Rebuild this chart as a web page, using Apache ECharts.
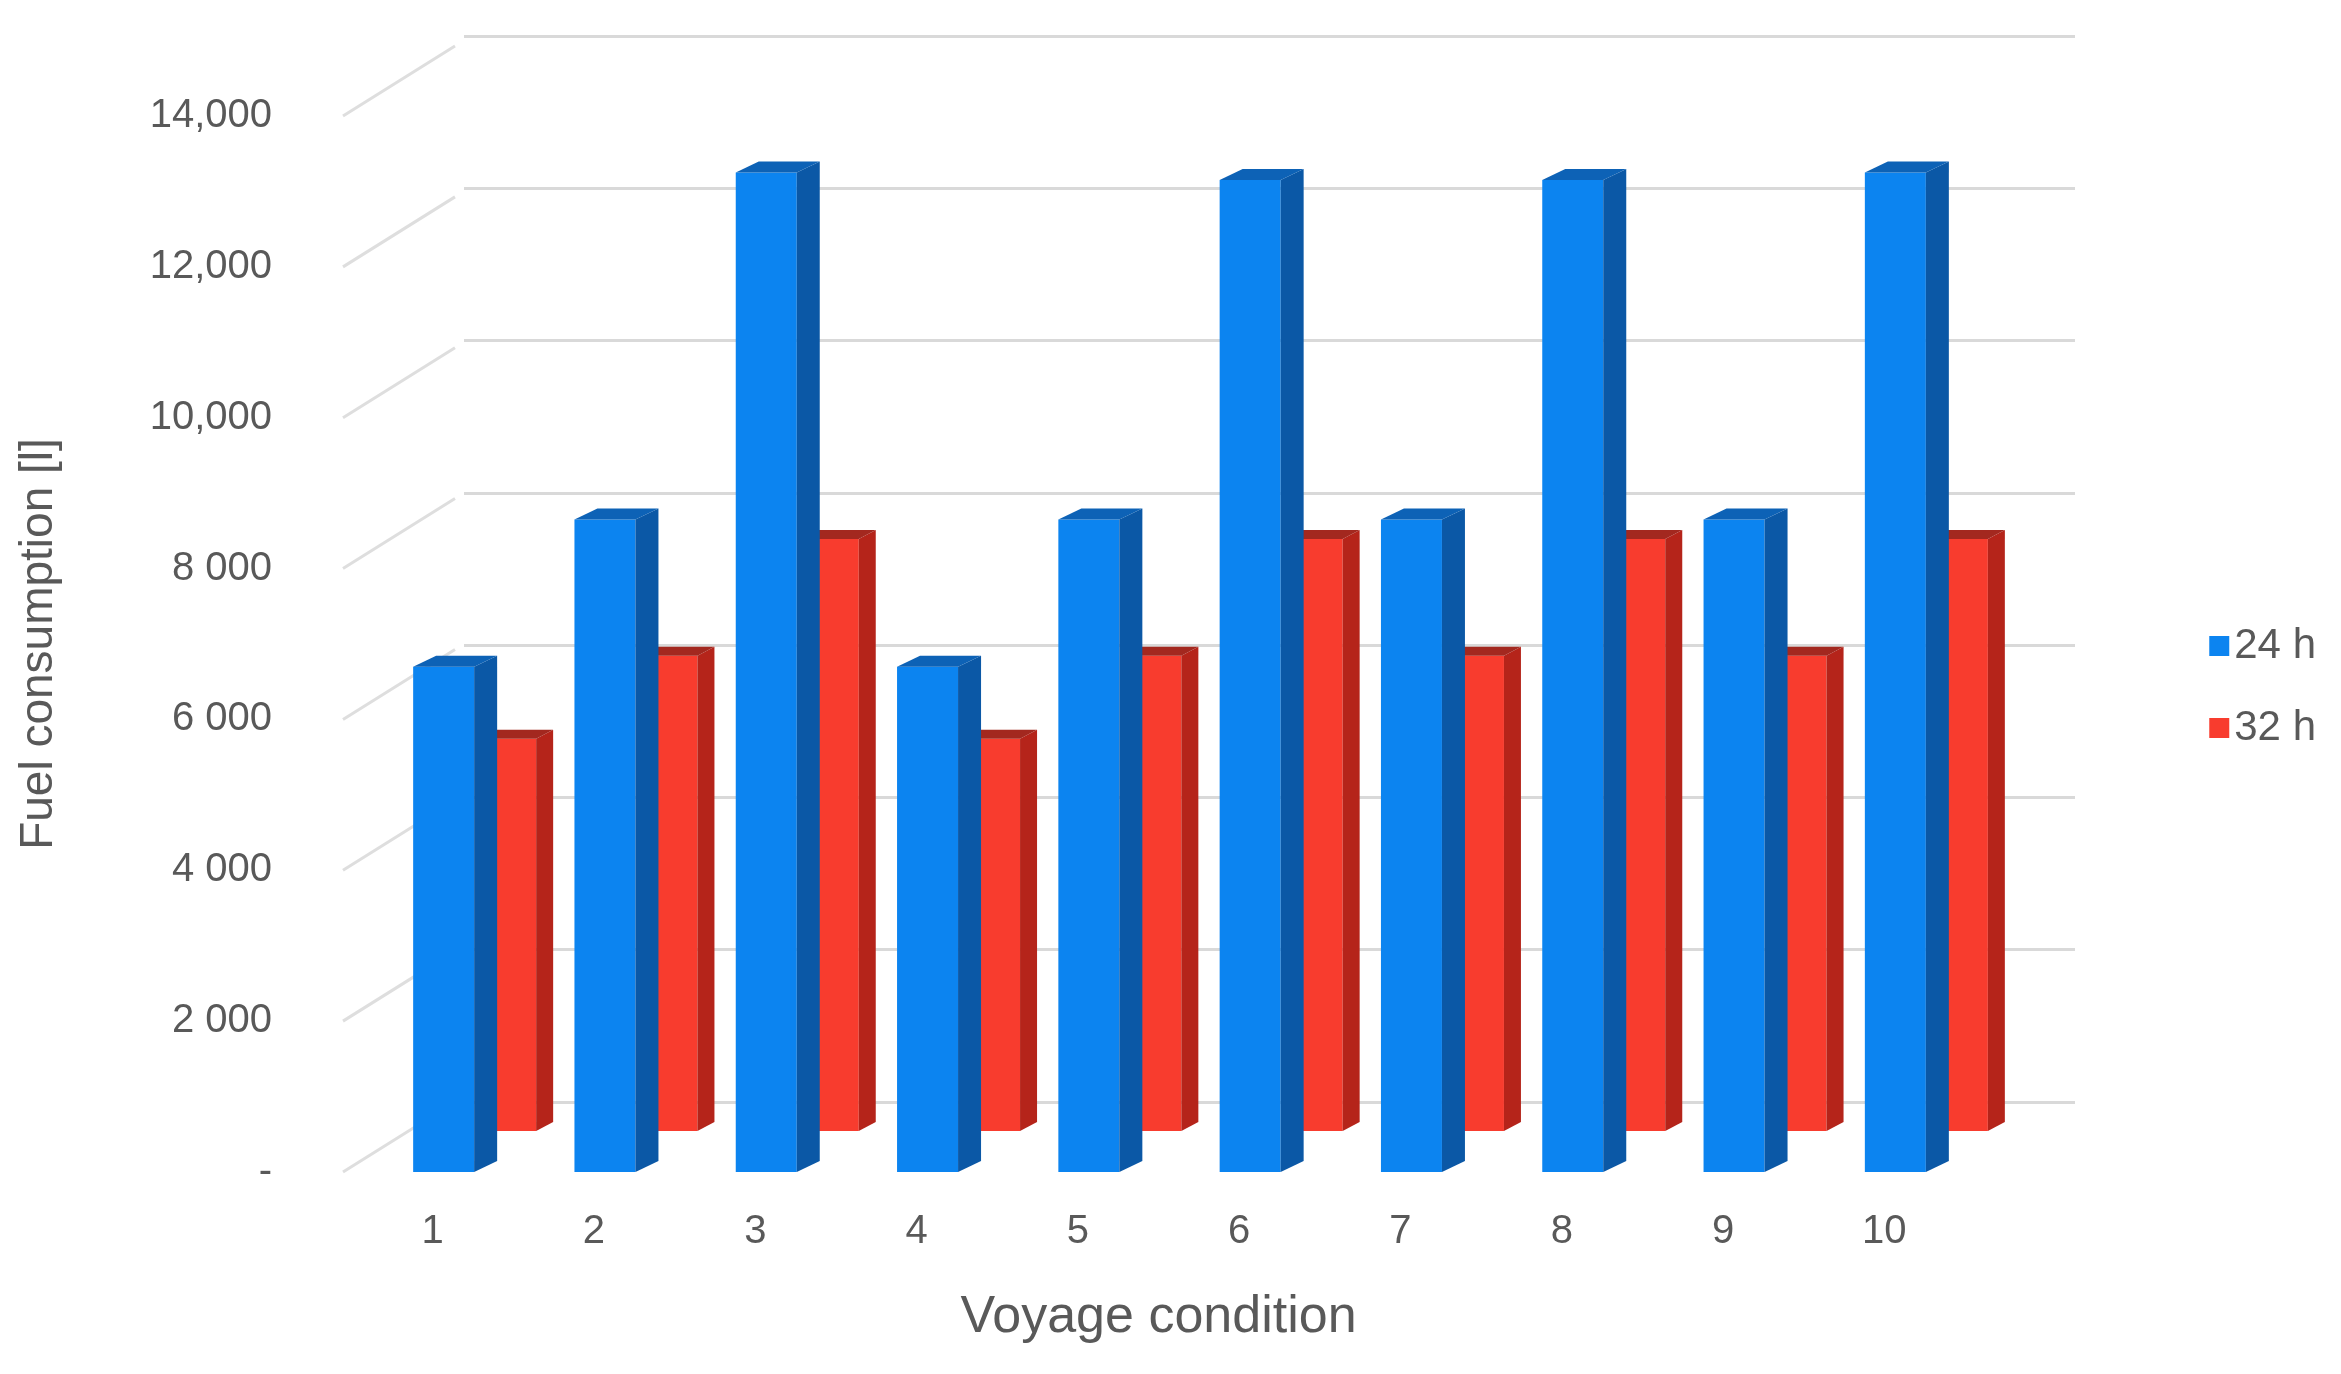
<!DOCTYPE html>
<html>
<head>
<meta charset="utf-8">
<script src="https://cdn.jsdelivr.net/npm/echarts@6/dist/echarts.min.js"></script>
<style>html,body{margin:0;background:#fff}#c{width:2341px;height:1374px}</style>
</head>
<body>
<div id="c"></div>
<script>
const categories = ['1', '2', '3', '4', '5', '6', '7', '8', '9', '10'];
const fuel24 = [6700, 8650, 13250, 6700, 8650, 13150, 8650, 13150, 8650, 13250];
const fuel32 = [5200, 6300, 7850, 5200, 6300, 7850, 6300, 7850, 6300, 7850];
const yTicks = [0, 2000, 4000, 6000, 8000, 10000, 12000, 14000];
const yTickLabels = ['-', '2 000', '4 000', '6 000', '8 000', '10,000', '12,000', '14,000'];

const FONT = 'Liberation Sans, Arial, sans-serif';
const GREY = '#595959';

// draws one 3D column, shifted back in depth
function bar3d(shiftX, shiftY, depthX, depthY, colors) {
    return function (params, api) {
        let i = api.value(0);
        let base = api.coord([i, 0]);
        let top = api.coord([i, api.value(1)]);
        let w = 61;
        let x0 = base[0] + 11 - w / 2 + shiftX;
        let x1 = x0 + w;
        let yb = base[1] + shiftY;
        let yt = top[1] + shiftY;
        return {
            type: 'group',
            children: [
                {type: 'rect', shape: {x: x0, y: yt, width: w, height: yb - yt}, style: {fill: colors[0]}},
                {type: 'polygon', shape: {points: [[x1, yt], [x1 + depthX, yt - depthY], [x1 + depthX, yb - depthY], [x1, yb]]}, style: {fill: colors[1]}},
                {type: 'polygon', shape: {points: [[x0, yt], [x0 + depthX, yt - depthY], [x1 + depthX, yt - depthY], [x1, yt]]}, style: {fill: colors[2]}}
            ]
        };
    };
}

const chart = echarts.init(document.getElementById('c'));
chart.setOption({
    animation: false,
    grid: [
        {left: 352, right: 376, top: 116, bottom: 202},
        {left: 464, right: 266, top: 36, bottom: 272}
    ],
    legend: {
        orient: 'vertical', right: 20, top: 620, itemGap: 40,
        icon: 'rect', itemWidth: 20, itemHeight: 20,
        textStyle: {fontFamily: FONT, fontSize: 42, color: GREY},
        data: ['24 h', '32 h']
    },
    xAxis: [
        {
            type: 'category', data: categories, gridIndex: 0,
            axisLine: {show: false}, axisTick: {show: false},
            axisLabel: {fontFamily: FONT, fontSize: 40, color: GREY, margin: 40},
            name: 'Voyage condition', nameLocation: 'middle', nameGap: 120,
            nameTextStyle: {fontFamily: FONT, fontSize: 52, color: GREY}
        },
        {type: 'category', data: categories, gridIndex: 1, show: false}
    ],
    yAxis: [
        {
            type: 'value', min: 0, max: 14000, interval: 2000, gridIndex: 0,
            splitLine: {show: false}, axisLine: {show: false}, axisTick: {show: false},
            axisLabel: {
                fontFamily: FONT, fontSize: 40, color: GREY, margin: 80,
                formatter: v => yTickLabels[yTicks.indexOf(v)]
            },
            name: 'Fuel consumption [l]', nameLocation: 'middle', nameGap: 290,
            nameTextStyle: {fontFamily: FONT, fontSize: 46, color: GREY}
        },
        {
            type: 'value', min: 0, max: 14000, interval: 2000, gridIndex: 1,
            axisLine: {show: false}, axisTick: {show: false}, axisLabel: {show: false},
            splitLine: {lineStyle: {color: '#d9d9d9', width: 3}}
        }
    ],
    series: [
        {
            // slanted side-wall lines joining front ticks to back wall
            type: 'custom', silent: true, xAxisIndex: 0, yAxisIndex: 0,
            data: yTicks.map(v => [0, v]),
            renderItem: function (params, api) {
                let p = api.coord([0, api.value(1)]);
                let x = params.coordSys.x - 9;
                return {type: 'line', shape: {x1: x, y1: p[1], x2: x + 112, y2: p[1] - 70},
                    style: {stroke: '#dedede', lineWidth: 3}};
            }
        },
        {
            name: '32 h', type: 'custom', xAxisIndex: 0, yAxisIndex: 0,
            itemStyle: {color: '#f83c2e'},
            data: fuel32.map((v, i) => [i, v]),
            renderItem: bar3d(62, -41, 17, 9, ['#f83c2e', '#b5241a', '#a3281f'])
        },
        {
            name: '24 h', type: 'custom', xAxisIndex: 0, yAxisIndex: 0,
            itemStyle: {color: '#0c84f0'},
            data: fuel24.map((v, i) => [i, v]),
            renderItem: bar3d(0, 0, 23, 11, ['#0c84f0', '#0b58a6', '#0d62b6'])
        }
    ]
});
</script>
</body>
</html>
